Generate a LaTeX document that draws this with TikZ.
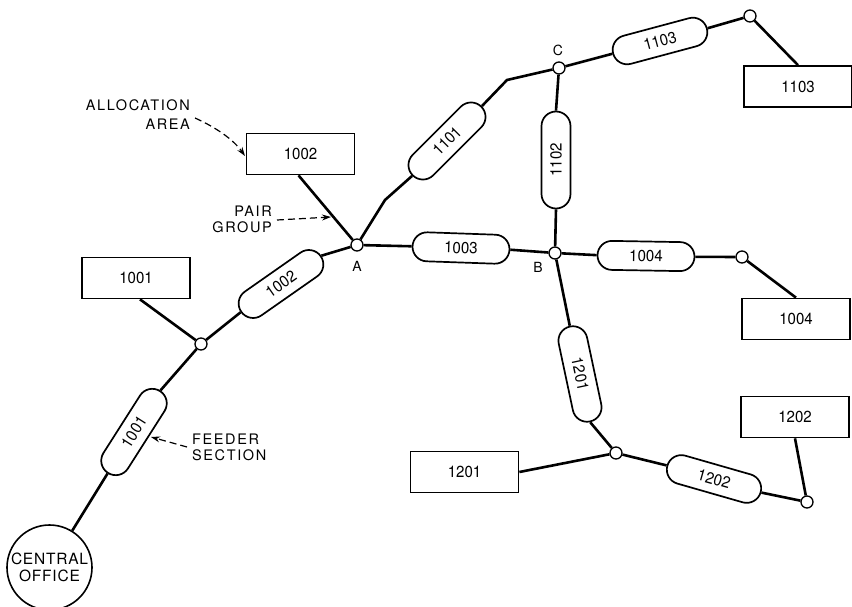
\documentclass[tikz,border=0pt]{standalone}
\usepackage{fontspec}
\setmainfont{TeX Gyre Heros}
\usetikzlibrary{shapes.misc,arrows.meta,calc}
\newcommand\numfnt{\fontsize{16}{18}\selectfont\addfontfeatures{FakeStretch=0.94}}
\newcommand\capfnt{\fontsize{14.5}{17.5}\selectfont\addfontfeatures{LetterSpace=11}}
\newcommand\cofnt{\fontsize{15.5}{17.5}\selectfont\addfontfeatures{LetterSpace=5}}
\newcommand\ltrfnt{\fontsize{14}{16}\selectfont}
\tikzset{
  boxnode/.style={draw, line width=1.7pt, minimum width=108pt, minimum height=41pt, inner sep=0pt, font=\numfnt},
  pill/.style={draw, rounded rectangle, line width=1.7pt, minimum width=97pt, minimum height=29pt, inner sep=0pt, fill=white, font=\numfnt},
  jn/.style={circle, draw, fill=white, minimum size=12pt, inner sep=0pt, line width=1.3pt},
  wire/.style={line width=2.6pt},
  ltr/.style={font=\ltrfnt, inner sep=0pt},
  note/.style={font=\capfnt, inner sep=0pt},
  callout/.style={line width=1.2pt, dash pattern=on 7pt off 4pt, -{Stealth[length=9pt,width=6pt]}}
}
\begin{document}
\begin{tikzpicture}[x=1pt,y=-1pt]
\fill[white] (0,0) rectangle (852,607);
\useasboundingbox (0,0) rectangle (852,607);

% central office
\node[circle, draw, line width=1.6pt, minimum size=85pt, inner sep=0pt, align=center, font=\cofnt] (CO) at (49.5,567.5) {CENTRAL\\[-1pt]OFFICE};

% junctions
\node[jn] (J1) at (201,344) {};
\node[jn] (A) at (357,245) {};
\node[jn] (B) at (555,253) {};
\node[jn] (C) at (559,68) {};
\node[jn] (J1103) at (750,16) {};
\node[jn] (J1004) at (742,257) {};
\node[jn] (J12) at (616,453) {};
\node[jn] (J1202) at (807,502) {};
\coordinate (bendA) at (385,200);
\coordinate (bendC) at (507,80);

% allocation area boxes
\node[boxnode] (b1001) at (136,278) {1001};
\node[boxnode] (b1002) at (300.5,154) {1002};
\node[boxnode] (b1103) at (798,86.5) {1103};
\node[boxnode] (b1004) at (796,319) {1004};
\node[boxnode] (b1202) at (795,417) {1202};
\node[boxnode] (b1201) at (464.5,472) {1201};

% feeder sections
\node[pill, rotate=57.5] (p1001) at (134,432) {1001};
\node[pill, rotate=35] (p1002) at (281,284) {1002};
\node[pill, rotate=-2] (p1003) at (461,248) {1003};
\node[pill, rotate=-1] (p1004) at (646,256) {1004};
\node[pill, rotate=45] (p1101) at (447,141) {1101};
\node[pill, rotate=90] (p1102) at (556,160) {1102};
\node[pill, rotate=15] (p1103) at (660,41) {1103};
\node[pill, rotate=-78] (p1201) at (580,374) {1201};
\node[pill, rotate=-16] (p1202) at (714,479) {1202};

% wires
\draw[wire] (CO) -- (p1001.west);
\draw[wire] (p1001.east) -- (J1);
\draw[wire] ($(b1001.south)+(4,0)$) -- (J1);
\draw[wire] (J1) -- (p1002.west);
\draw[wire] (p1002.east) -- (A);
\draw[wire] ($(b1002.south)+(-2,0)$) -- (A);
\draw[wire] (A) -- (p1003.west);
\draw[wire] (p1003.east) -- (B);
\draw[wire] (A) -- (bendA) -- (p1101.west);
\draw[wire] (p1101.east) -- (bendC) -- (C);
\draw[wire] (C) -- (p1102.east);
\draw[wire] (p1102.west) -- (B);
\draw[wire] (C) -- (p1103.west);
\draw[wire] (p1103.east) -- (J1103);
\draw[wire] (J1103) -- (b1103.north);
\draw[wire] (B) -- (p1004.west);
\draw[wire] (p1004.east) -- (J1004);
\draw[wire] (J1004) -- (b1004.north);
\draw[wire] (B) -- (p1201.west);
\draw[wire] (p1201.east) -- (J12);
\draw[wire] (b1201.east) -- (J12);
\draw[wire] (J12) -- (p1202.west);
\draw[wire] (p1202.east) -- (J1202);
\draw[wire] (J1202) -- (b1202.south);

% junction letters
\node[ltr] (lA) at (357,266) {A};
\node[ltr] (lB) at (538,267) {B};
\node[ltr] (lC) at (558,50) {C};

% callouts
\node[note, align=right, anchor=east] (alloc) at (190,114.5) {ALLOCATION\\[1pt]AREA};
\coordinate (allocS) at (195,118);
\coordinate (allocT) at (245,156);
\draw[callout] (allocS) .. controls (215,127) and (233,139) .. (allocT);

\node[note, align=right, anchor=east] (pair) at (272,219.5) {PAIR\\[-1pt]GROUP};
\coordinate (pairS) at (277,220);
\coordinate (pairT) at (331,217);
\draw[callout] (pairS) -- (pairT);

\node[note, align=left, anchor=west] (feeder) at (192,447.5) {FEEDER\\[-1pt]SECTION};
\coordinate (feedS) at (187,447);
\coordinate (feedT) at (151,437);
\draw[callout] (feedS) -- (feedT);
\end{tikzpicture}
\end{document}
